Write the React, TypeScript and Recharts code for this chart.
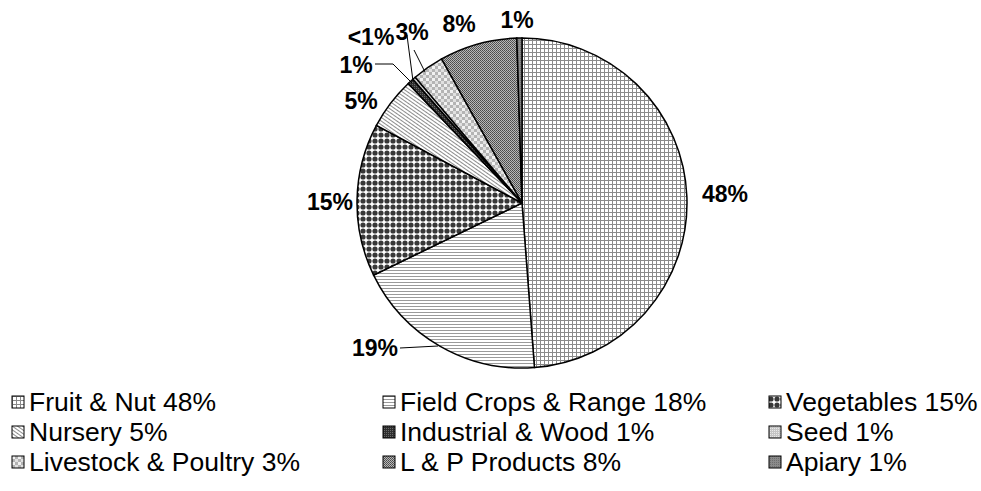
import { PieChart, Pie, Cell, Legend } from 'recharts'

// slices in drawing order, clockwise from 12 o'clock
const categories = [
  'Fruit & Nut',
  'Field Crops & Range',
  'Vegetables',
  'Nursery',
  'Industrial & Wood',
  'Seed',
  'Livestock & Poultry',
  'L & P Products',
  'Apiary',
]
const sliceValues = [48.8, 19.0, 15.0, 5.1, 0.6, 0.3, 3.1, 7.6, 0.5]
const sliceLabels = ['48%', '19%', '15%', '5%', '1%', '<1%', '3%', '8%', '1%']
const legendLabels = ['48%', '18%', '15%', '5%', '1%', '1%', '3%', '8%', '1%']

const PATTERN_IDS = ['pFruit', 'pField', 'pVeg', 'pNursery', 'pInd', 'pSeed', 'pLive', 'pLP', 'pApiary']

// label placement relative to pie centre, plus optional leader line points
const LABEL_LAYOUT: { dx: number; dy: number; line?: number[][] }[] = [
  { dx: 203, dy: -9 },
  { dx: -147, dy: 145, line: [[-122, 145], [-84, 143]] },
  { dx: -192, dy: -1 },
  { dx: -161, dy: -102 },
  { dx: -166, dy: -138, line: [[-147, -139], [-129, -139], [-110, -120]] },
  { dx: -151, dy: -166, line: [[-115, -168], [-114, -160], [-109, -122]] },
  { dx: -110, dy: -171, line: [[-108, -153], [-97, -131]] },
  { dx: -63, dy: -179 },
  { dx: -5, dy: -183 },
]

const data = categories.map((name, i) => ({ name, value: sliceValues[i] }))

const PatternDefs = () => (
  <svg width={0} height={0} style={{ position: 'absolute' }}>
    <defs>
      <pattern id="pFruit" width={4} height={4} patternUnits="userSpaceOnUse">
        <rect width={4} height={4} fill="#fff" />
        <path d="M0 0.5H4M0.5 0V4" stroke="#8a8a8a" strokeWidth={1} />
      </pattern>
      <pattern id="pField" width={3} height={3} patternUnits="userSpaceOnUse">
        <rect width={3} height={3} fill="#fff" />
        <path d="M0 0.5H3" stroke="#9a9a9a" strokeWidth={1} />
      </pattern>
      <pattern id="pVeg" width={6} height={6} patternUnits="userSpaceOnUse">
        <rect width={6} height={6} fill="#fff" />
        <circle cx={3} cy={3} r={2.6} fill="#383838" />
      </pattern>
      <pattern id="pNursery" width={3} height={3} patternUnits="userSpaceOnUse" patternTransform="rotate(35)">
        <rect width={3} height={3} fill="#fff" />
        <path d="M0 0.5H3" stroke="#8c8c8c" strokeWidth={1} />
      </pattern>
      <pattern id="pInd" width={2} height={2} patternUnits="userSpaceOnUse">
        <rect width={2} height={2} fill="#2e2e2e" />
        <rect width={1} height={1} fill="#6a6a6a" />
      </pattern>
      <pattern id="pSeed" width={2} height={2} patternUnits="userSpaceOnUse">
        <rect width={2} height={2} fill="#c4c4c4" />
        <rect width={1} height={1} fill="#e8e8e8" />
      </pattern>
      <pattern id="pLive" width={6} height={6} patternUnits="userSpaceOnUse">
        <rect width={6} height={6} fill="#b4b4b4" />
        <rect width={3} height={3} fill="#f2f2f2" />
        <rect x={3} y={3} width={3} height={3} fill="#e0e0e0" />
      </pattern>
      <pattern id="pLP" width={2} height={2} patternUnits="userSpaceOnUse">
        <rect width={2} height={2} fill="#b8b8b8" />
        <rect width={1} height={1} fill="#4a4a4a" />
        <rect x={1} y={1} width={1} height={1} fill="#5a5a5a" />
      </pattern>
      <pattern id="pApiary" width={2} height={2} patternUnits="userSpaceOnUse">
        <rect width={2} height={2} fill="#8a8a8a" />
        <rect width={1} height={1} fill="#6e6e6e" />
      </pattern>
    </defs>
  </svg>
)

const renderLabel = (props: any) => {
  const { cx, cy, index } = props
  const lay = LABEL_LAYOUT[index]
  return (
    <g key={`lbl-${index}`}>
      {lay.line && (
        <polyline
          points={lay.line.map(([x, y]) => `${cx + x},${cy + y}`).join(' ')}
          fill="none"
          stroke="#000"
          strokeWidth={1}
        />
      )}
      <text
        x={cx + lay.dx}
        y={cy + lay.dy}
        textAnchor="middle"
        dominantBaseline="central"
        fontFamily="Arial, 'Liberation Sans', sans-serif"
        fontWeight="bold"
        fontSize={23}
        fill="#000"
      >
        {sliceLabels[index]}
      </text>
    </g>
  )
}

const LEGEND_COLS = [29, 400, 786]

const renderLegend = () => (
  <svg width={981} height={110}>
    {categories.map((name, i) => {
      const col = i % 3
      const row = Math.floor(i / 3)
      const x = LEGEND_COLS[col]
      const y = 18 + row * 30
      return (
        <g key={name}>
          <rect x={x - 17} y={y - 6} width={12} height={12} fill={`url(#${PATTERN_IDS[i]})`} stroke="#000" strokeWidth={1} />
          <text
            x={x}
            y={y}
            dominantBaseline="central"
            fontFamily="Arial, 'Liberation Sans', sans-serif"
            fontSize={26.5}
            fill="#000"
          >
            {name} {legendLabels[i]}
          </text>
        </g>
      )
    })}
  </svg>
)

export default function App() {
  return (
    <div style={{ position: 'absolute', left: 0, top: 0, width: 981, height: 491, background: '#fff' }}>
      <PatternDefs />
      <PieChart width={981} height={491} margin={{ top: 0, right: 0, bottom: 0, left: 0 }}>
        <Pie
          data={data}
          dataKey="value"
          nameKey="name"
          cx={522}
          cy={203}
          outerRadius={165}
          startAngle={90}
          endAngle={-270}
          stroke="#000"
          strokeWidth={1.5}
          label={renderLabel}
          labelLine={false}
          isAnimationActive={false}
        >
          {data.map((entry, index) => (
            <Cell key={`cell-${index}`} fill={`url(#${PATTERN_IDS[index]})`} />
          ))}
        </Pie>
        <Legend
          content={renderLegend}
          wrapperStyle={{ position: 'absolute', left: 0, top: 384, width: 981, height: 110 }}
        />
      </PieChart>
    </div>
  )
}
